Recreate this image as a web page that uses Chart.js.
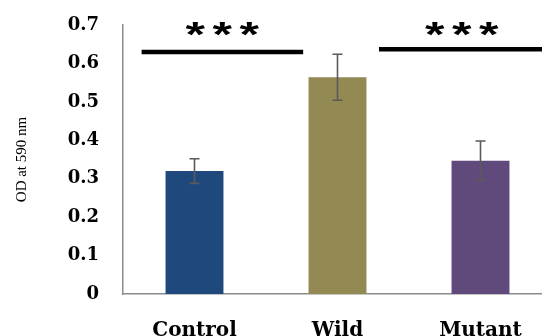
<!DOCTYPE html>
<html lang="en">
<head>
    <meta charset="UTF-8">
    <title>OD at 590 nm</title>
    <script src="https://cdn.jsdelivr.net/npm/chart.js"></script>
    <style>
        html, body {
            margin: 0;
            padding: 0;
            overflow: hidden;
            background: #fff;
        }
        .chart-container {
            width: 552px;
            height: 336px;
        }
    </style>
</head>
<body>
    <div class="chart-container">
        <canvas id="odChart"></canvas>
    </div>

    <script>
        // Data
        const groups = ['Control', 'Wild', 'Mutant'];
        const odValues = [0.32, 0.564, 0.347];
        const odErrors = [0.032, 0.06, 0.051];
        const barColors = ['#1F497D', '#938953', '#604A7B'];
        const yTicks = [0, 0.1, 0.2, 0.3, 0.4, 0.5, 0.6, 0.7];

        // Significance bars: from/to in category index units, y in data units
        const sigFrom = [-0.37, 1.29];
        const sigTo = [0.76, 2.45];
        const sigLevel = [0.63, 0.637];
        const sigLabels = ['***', '***'];
        const sigLabelLevel = 0.692;

        // one star: drawn to fit a w x h box centred at (cx, cy)
        function drawStar(ctx, ch, cx, cy, w, h) {
            ctx.save();
            ctx.font = 'bold 40px "Liberation Sans", Arial, sans-serif';
            const m = ctx.measureText(ch);
            const gw = m.actualBoundingBoxLeft + m.actualBoundingBoxRight;
            const gh = m.actualBoundingBoxAscent + m.actualBoundingBoxDescent;
            ctx.translate(cx, cy);
            ctx.scale(w / gw, h / gh);
            ctx.textAlign = 'left';
            ctx.textBaseline = 'alphabetic';
            ctx.fillStyle = '#000';
            const gx = -(m.actualBoundingBoxRight - m.actualBoundingBoxLeft) / 2;
            const gy = (m.actualBoundingBoxAscent - m.actualBoundingBoxDescent) / 2;
            ctx.fillText(ch, gx, gy);
            ctx.restore();
        }

        const annotations = {
            id: 'annotations',
            afterDatasetsDraw(chart) {
                const ctx = chart.ctx;
                const x = chart.scales.x;
                const y = chart.scales.y;
                const meta = chart.getDatasetMeta(0);

                // error bars
                ctx.save();
                ctx.strokeStyle = '#5a5a5a';
                ctx.lineWidth = 1.6;
                meta.data.forEach((bar, i) => {
                    const cx = bar.x;
                    const top = y.getPixelForValue(odValues[i] + odErrors[i]);
                    const bot = y.getPixelForValue(odValues[i] - odErrors[i]);
                    ctx.beginPath();
                    ctx.moveTo(cx, top);
                    ctx.lineTo(cx, bot);
                    ctx.moveTo(cx - 5, top);
                    ctx.lineTo(cx + 5, top);
                    ctx.moveTo(cx - 5, bot);
                    ctx.lineTo(cx + 5, bot);
                    ctx.stroke();
                });
                ctx.restore();

                // significance lines and stars
                const step = x.getPixelForValue(1) - x.getPixelForValue(0);
                const x0 = x.getPixelForValue(0);
                sigFrom.forEach((f, i) => {
                    const a = x0 + f * step;
                    const b = x0 + sigTo[i] * step;
                    const ly = y.getPixelForValue(sigLevel[i]);
                    ctx.save();
                    ctx.strokeStyle = '#000';
                    ctx.lineWidth = 4.5;
                    ctx.beginPath();
                    ctx.moveTo(a, ly);
                    ctx.lineTo(b, ly);
                    ctx.stroke();
                    ctx.restore();

                    const mid = (a + b) / 2;
                    const sy = y.getPixelForValue(sigLabelLevel);
                    const stars = sigLabels[i].split('');
                    stars.forEach((ch, k) => {
                        drawStar(ctx, ch, mid + (k - (stars.length - 1) / 2) * 27, sy, 20, 14);
                    });
                });
            }
        };

        const serif = '"DejaVu Serif", "Times New Roman", serif';

        new Chart(document.getElementById('odChart'), {
            type: 'bar',
            data: {
                labels: groups,
                datasets: [{
                    data: odValues,
                    backgroundColor: barColors,
                    borderWidth: 0,
                    barPercentage: 0.405,
                    categoryPercentage: 1
                }]
            },
            options: {
                responsive: true,
                maintainAspectRatio: false,
                animation: false,
                layout: {
                    padding: { top: 25, left: 0, right: 0, bottom: 0 }
                },
                plugins: {
                    legend: { display: false },
                    tooltip: { enabled: false }
                },
                scales: {
                    x: {
                        grid: { display: false, drawTicks: false },
                        border: { color: '#8c8c8c', width: 1.5 },
                        ticks: {
                            padding: 25,
                            color: '#000',
                            font: { family: serif, size: 20, weight: 'bold' }
                        },
                        afterFit(scale) {
                            scale.height = 42;
                        }
                    },
                    y: {
                        min: 0,
                        max: 0.7,
                        afterBuildTicks(scale) {
                            scale.ticks = yTicks.map(v => ({ value: v }));
                        },
                        grid: { display: false, drawTicks: false },
                        border: { color: '#8c8c8c', width: 1.5 },
                        ticks: {
                            padding: 24,
                            color: '#000',
                            font: { family: serif, size: 18, weight: 'bold' }
                        },
                        title: {
                            display: true,
                            text: 'OD at 590 nm',
                            color: '#000',
                            padding: { top: 13, bottom: 0 },
                            font: { family: '"Liberation Serif", "Times New Roman", serif', size: 15 }
                        },
                        afterFit(scale) {
                            scale.width = 123;
                            // tick padding would otherwise push the plot top down
                            scale.paddingTop = 0;
                            scale.paddingBottom = 0;
                        }
                    }
                }
            },
            plugins: [annotations]
        });
    </script>
</body>
</html>
